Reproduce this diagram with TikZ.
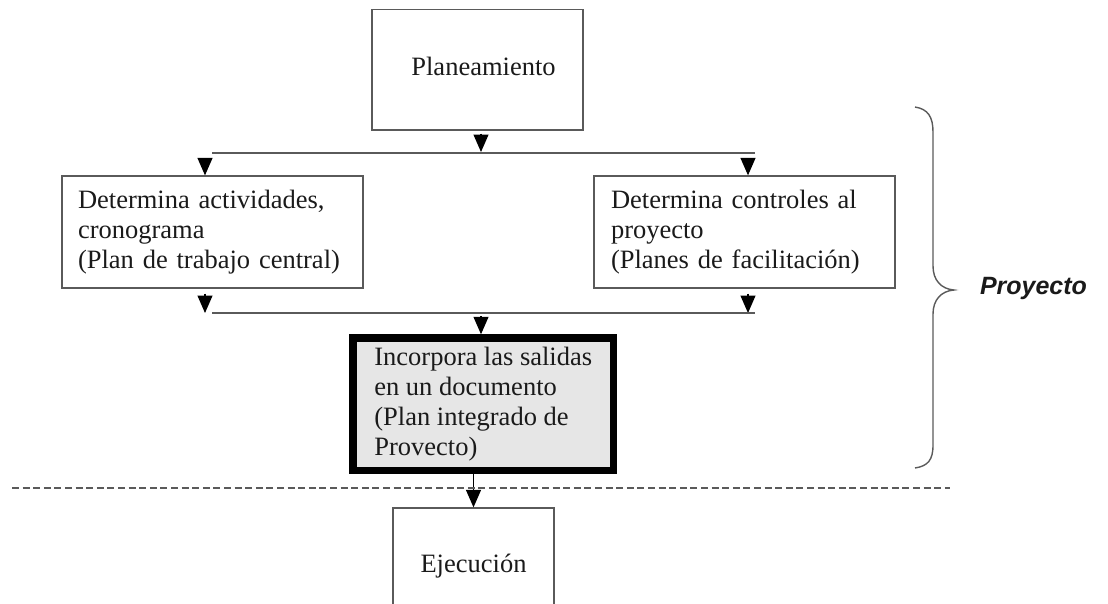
\documentclass[tikz,border=0pt]{standalone}
\usepackage{fontspec}
\setmainfont{Liberation Serif}
\newfontfamily\arialfont{Liberation Sans}
\usetikzlibrary{arrows.meta}
\definecolor{boxline}{HTML}{5A5A5A}
\definecolor{txt}{HTML}{1A1A1A}
\definecolor{midfill}{HTML}{E6E6E6}
\tikzset{
  box/.style={draw=boxline, line width=1.3pt, rectangle, inner sep=0pt, text=txt,
    font=\fontsize{26.5}{30}\selectfont},
  txtbox/.style={box, align=left},
  lbl/.style={text=txt, font=\fontsize{26.5}{30}\selectfont, inner sep=0pt},
  ln/.style={draw=boxline, line width=1.2pt},
  arr/.style={draw=black, line width=1.2pt, -{Triangle[width=15pt,length=17.5pt]}},
}
\begin{document}
\begin{tikzpicture}[x=1pt,y=-1pt]
\useasboundingbox (0,0) rectangle (1108,603);

% Planeamiento
\node[box, minimum width=211pt, minimum height=120.5pt] (plan) at (477.5,69.75) {};
\node[lbl, anchor=base] (plantext) at (483.5,75) {Planeamiento};

% Left and right boxes
\node[txtbox, minimum width=301pt, minimum height=112pt, text width=269pt, inner xsep=16pt] (L) at (212.5,232) {Determina actividades,\\cronograma\\(Plan de trabajo central)};
\node[txtbox, minimum width=301pt, minimum height=112pt, text width=267pt, inner xsep=17pt] (R) at (744.5,232) {Determina controles al\\proyecto\\(Planes de facilitación)};

% Middle box
\node[box, draw=black, line width=7.5pt, fill=midfill, align=left, minimum width=260.5pt, minimum height=132.5pt] (M) at (483.25,404.25) {Incorpora las salidas\\en un documento\\(Plan integrado de\\Provecto)};

% Ejecucion
\node[box, minimum width=161pt, minimum height=116pt] (E) at (473.5,566) {Ejecución};

% coordinates
\coordinate (t1) at (481,152);
\coordinate (b1l) at (212,153);
\coordinate (b1r) at (755,153);
\coordinate (la) at (205,158);
\coordinate (ra) at (748,158);
\coordinate (la2) at (205,313);
\coordinate (ra2) at (748,313);
\coordinate (b2l) at (212,313);
\coordinate (b2r) at (755,313);
\coordinate (ma) at (481,316);

% connectors
\draw[arr, shorten <=3pt] (plan.south -| t1) -- (t1);
\draw[ln] (b1l) -- (b1r);
\draw[arr] (la) -- (la |- L.north);
\draw[arr] (ra) -- (ra |- R.north);
\draw[arr, shorten <=5pt] (L.south -| la2) -- (la2);
\draw[arr, shorten <=5pt] (R.south -| ra2) -- (ra2);
\draw[ln] (b2l) -- (b2r);
\draw[arr] (ma) -- (ma |- M.north);
\draw[arr] (M.south -| E.north) -- (E.north);

% dashed separator
\coordinate (dl) at (12,488);
\coordinate (dr) at (950,488);
\draw[draw=boxline, line width=1.2pt, dash pattern=on 7pt off 3.6pt] (dl) -- (dr);

% brace
\coordinate (brtop) at (915,107);
\coordinate (brtip) at (954,290);
\coordinate (brbot) at (915,468);
\draw[draw=boxline, line width=1.4pt]
  (brtop) .. controls (928,109) and (933,117) .. (933,132)
  -- (933,266) .. controls (933,280) and (941,289) .. (brtip)
  .. controls (941,291) and (933,300) .. (933,314)
  -- (933,445) .. controls (933,460) and (928,466) .. (brbot);
\node[text=txt, font=\arialfont\bfseries\itshape\fontsize{25}{28}\selectfont, anchor=base, inner sep=0pt] (proy) at (1033.5,294) {Proyecto};
\end{tikzpicture}
\end{document}
